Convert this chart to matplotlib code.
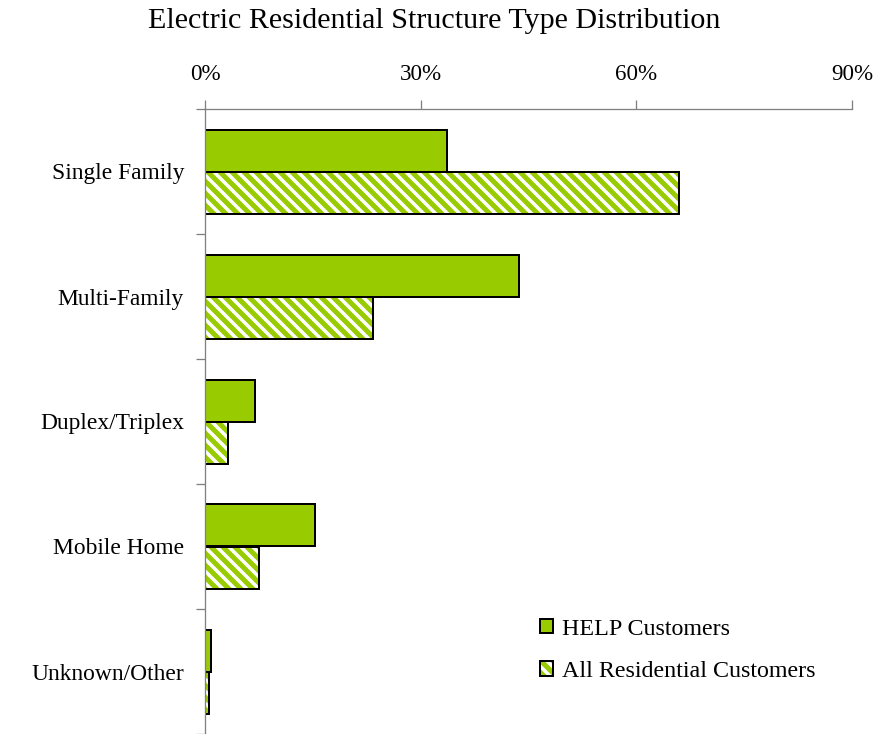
import matplotlib.pyplot as plt
from matplotlib.patches import Patch
from matplotlib.legend_handler import HandlerTuple
import numpy as np

categories = ['Single Family', 'Multi-Family', 'Duplex/Triplex', 'Mobile Home', 'Unknown/Other']
help_customers = [33.6, 43.7, 7.0, 15.3, 0.8]
all_residential = [65.9, 23.4, 3.2, 7.5, 0.5]
xticks = [0, 30, 60, 90]

green = '#99CC00'
plt.rcParams['font.family'] = ['Liberation Serif', 'DejaVu Serif']
plt.rcParams['hatch.linewidth'] = 5

# dpi 72 so one point is one pixel (also sets hatch spacing)
fig = plt.figure(figsize=(879/72, 734/72), dpi=72)
ax = fig.add_axes([205/879, 0.0, (852-205)/879, 1 - 109/734])

y = np.arange(len(categories))
h = 0.336
ax.barh(y - h/2, help_customers, height=h, color=green, edgecolor='black', linewidth=2)
ax.barh(y + h/2, all_residential, height=h, color='white', edgecolor=green, hatch='\\\\',
        linewidth=0)
ax.barh(y + h/2, all_residential, height=h, color='none', edgecolor='black', linewidth=2)

ax.set_xlim(0, 90)
ax.set_ylim(len(categories) - 0.5, -0.5)
ax.xaxis.tick_top()
ax.set_xticks(xticks)
ax.set_xticklabels([f'{v}%' for v in xticks], fontsize=23)
ax.tick_params(axis='x', length=9, width=1.3, color='#808080', pad=15)

ax.set_yticks(np.arange(len(categories) + 1) - 0.5)
ax.set_yticklabels([])
ax.set_yticks(y, minor=True)
ax.set_yticklabels(categories, minor=True, fontsize=23.5)
ax.tick_params(axis='y', which='major', length=9, width=1.3, color='#808080')
ax.tick_params(axis='y', which='minor', length=0, pad=21)

for s in ['right', 'bottom']:
    ax.spines[s].set_visible(False)
for s in ['left', 'top']:
    ax.spines[s].set_color('#808080')
    ax.spines[s].set_linewidth(1.3)

fig.text(434/879, 1 - 28.5/734, 'Electric Residential Structure Type Distribution',
         ha='center', va='baseline', fontsize=30)

h_help = Patch(facecolor=green, edgecolor='black', linewidth=2)
h_all = (Patch(facecolor='white', edgecolor=green, hatch='\\\\', linewidth=0),
         Patch(facecolor='none', edgecolor='black', linewidth=2))
leg = fig.legend([h_help, h_all], ['HELP Customers', 'All Residential Customers'],
                 handler_map={tuple: HandlerTuple(ndivide=1, pad=0)},
                 loc='upper left', bbox_to_anchor=(518/879, 1 - 597/734), frameon=False,
                 fontsize=24, handlelength=0.55, handleheight=0.55, handletextpad=0.4,
                 labelspacing=0.9)

fig.savefig('out.png', dpi=72)
